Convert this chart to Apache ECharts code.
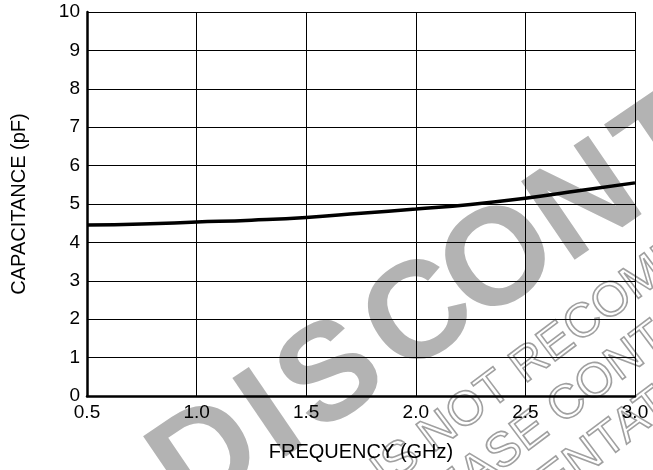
<!DOCTYPE html>
<html>
<head>
<meta charset="utf-8">
<script src="https://cdn.jsdelivr.net/npm/echarts@6/dist/echarts.min.js"></script>
<style>
html,body{margin:0;padding:0;background:#fff;}
#chart{width:653px;height:470px;}
</style>
</head>
<body>
<div id="chart"></div>
<script>
var frequencyGHz = [0.5, 0.75, 1.0, 1.25, 1.5, 1.75, 2.0, 2.25, 2.5, 2.75, 3.0];
var capacitancePF = [4.45, 4.48, 4.53, 4.58, 4.65, 4.76, 4.87, 4.99, 5.15, 5.35, 5.55];
var xTitle = 'FREQUENCY (GHz)';
var yTitle = 'CAPACITANCE (pF)';
var watermarkBig = 'DISCONTINUED';
var watermarkLines = ['IS NOT RECOMMENDED FOR NEW DESIGNS', 'PLEASE CONTACT YOUR', 'REPRESENTATIVE'];

var FONT = '"Liberation Sans", Arial, Helvetica, sans-serif';
var chart = echarts.init(document.getElementById('chart'));

var pts = frequencyGHz.map(function (f, i) { return [f, capacitancePF[i]]; });

// watermark letter centres (decoration, not data)
var bigCenters = [[205, 455], [269, 414], [329, 373], [417, 313], [497, 258], [583, 200], [666, 143]];
var bigAngle = 0.5986, bigSize = 138;
var graphics = [];
var capOff = 0.048 * bigSize;
bigCenters.forEach(function (c, i) {
  graphics.push({
    type: 'text', x: c[0] + Math.sin(bigAngle) * capOff, y: c[1] + Math.cos(bigAngle) * capOff,
    rotation: bigAngle, z: -10, silent: true,
    style: { text: watermarkBig.charAt(i), font: 'bold ' + bigSize + 'px ' + FONT, fill: '#b3b3b3',
             textAlign: 'center', verticalAlign: 'middle', textVerticalAlign: 'middle' }
  });
});
var smallPos = [[378, 478], [394, 535], [387, 608]];
watermarkLines.forEach(function (t, i) {
  graphics.push({
    type: 'text', x: smallPos[i][0], y: smallPos[i][1], rotation: 0.6458, z: -9, silent: true,
    style: { text: t, font: '48px ' + FONT, fill: 'transparent', stroke: '#a0a0a0', lineWidth: 1.6,
             textAlign: 'left', verticalAlign: 'middle', textVerticalAlign: 'middle' }
  });
});

chart.setOption({
  backgroundColor: '#fff',
  animation: false,
  graphic: graphics,
  grid: { left: 87, right: 18, top: 12, bottom: 74, containLabel: false },
  xAxis: {
    type: 'value', min: 0.5, max: 3.0, interval: 0.5,
    name: xTitle, nameLocation: 'middle', nameGap: 46,
    nameTextStyle: { color: '#000', fontFamily: FONT, fontSize: 20 },
    axisLine: { show: true, onZero: false, lineStyle: { color: '#000', width: 2.5 } },
    axisTick: { show: false },
    axisLabel: { color: '#000', fontFamily: FONT, fontSize: 19, margin: 7,
                 formatter: function (v) { return v.toFixed(1); } },
    splitLine: { show: true, lineStyle: { color: '#000', width: 1 } }
  },
  yAxis: {
    type: 'value', min: 0, max: 10, interval: 1,
    name: yTitle, nameLocation: 'middle', nameGap: 58, nameRotate: 90,
    nameTextStyle: { color: '#000', fontFamily: FONT, fontSize: 20 },
    axisLine: { show: true, onZero: false, lineStyle: { color: '#000', width: 2.5 } },
    axisTick: { show: false },
    axisLabel: { color: '#000', fontFamily: FONT, fontSize: 19, margin: 7 },
    splitLine: { show: true, lineStyle: { color: '#000', width: 1 } }
  },
  series: [{
    type: 'line', data: pts, smooth: true, symbol: 'none', z: 5,
    lineStyle: { color: '#000', width: 3.5 }
  }]
});
</script>
</body>
</html>
